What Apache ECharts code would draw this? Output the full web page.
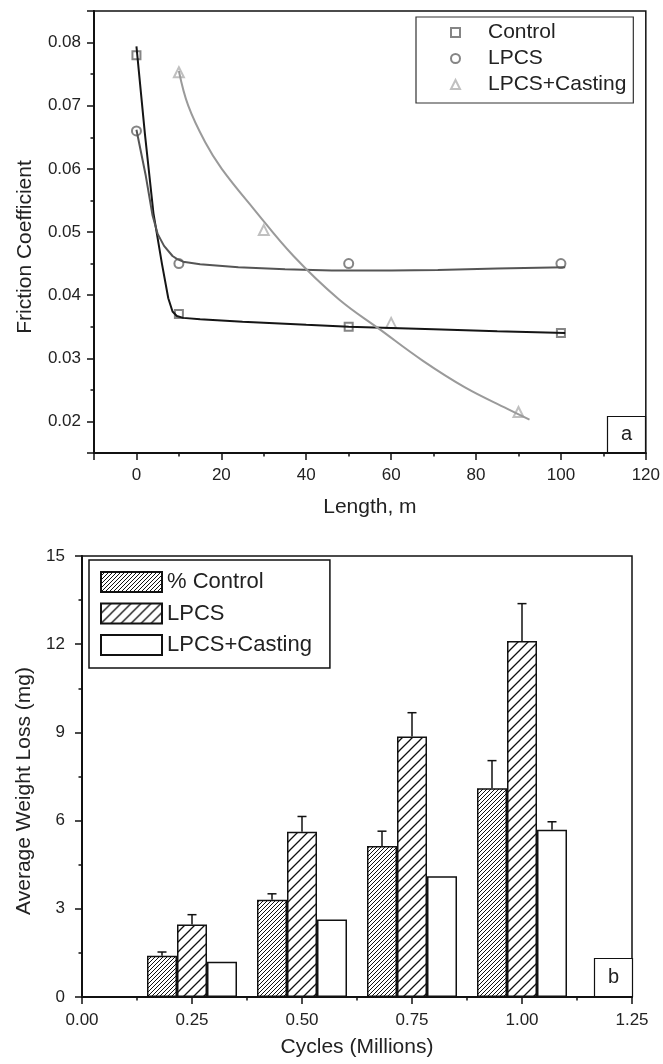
<!DOCTYPE html>
<html>
<head>
<meta charset="utf-8">
<title>Friction coefficient and weight loss</title>
<script src="https://cdn.jsdelivr.net/npm/echarts@6/dist/echarts.min.js"></script>
<style>
html,body{margin:0;padding:0;background:#fff;}
#chart{width:663px;height:1064px;}
</style>
</head>
<body>
<div id="chart"></div>
<script>
// (a) friction coefficient vs length
var controlX = [0, 10, 50, 100];
var controlY = [0.078, 0.037, 0.035, 0.034];
var lpcsX = [0, 10, 50, 100];
var lpcsY = [0.066, 0.045, 0.045, 0.045];
var castX = [10, 30, 60, 90];
var castY = [0.0753, 0.0503, 0.0356, 0.0215];

// fitted curves, points
var controlFitX = [0, 2, 4, 6, 7.5, 8.5, 9.5, 11, 15, 25, 40, 50, 70, 85, 101];
var controlFitY = [0.0794, 0.0655, 0.0530, 0.0450, 0.0395, 0.0374, 0.0367, 0.0364, 0.0362, 0.0358, 0.0353, 0.0350, 0.0346, 0.0343, 0.0340];
var lpcsFitX = [0, 2.2, 3.8, 5, 6.5, 8.5, 9.6, 11, 15, 24, 35, 46, 60, 71, 85, 101];
var lpcsFitY = [0.0662, 0.0589, 0.0526, 0.0497, 0.0478, 0.0462, 0.0457, 0.0453, 0.0449, 0.0444, 0.0441, 0.0439, 0.0439, 0.0440, 0.0442, 0.0444];
var castFitX = [10, 12.2, 16.2, 20.1, 27.7, 37, 47.6, 57.5, 67.5, 77.4, 87.4, 92.6];
var castFitY = [0.0755, 0.0700, 0.0642, 0.0600, 0.0536, 0.0462, 0.0394, 0.0345, 0.0296, 0.0254, 0.0220, 0.0203];

// (b) average weight loss vs cycles
var cycles = [0.25, 0.5, 0.75, 1.0];
var controlLoss = [1.40, 3.31, 5.14, 7.10];
var controlErr = [0.13, 0.20, 0.50, 0.94];
var lpcsLoss = [2.47, 5.62, 8.86, 12.11];
var lpcsErr = [0.33, 0.52, 0.81, 1.27];
var castLoss = [1.20, 2.64, 4.11, 5.69];
var castErr = [0, 0, 0, 0.27];

var font = "'Liberation Sans', Arial, sans-serif";
var ink = '#111';

function pairs(xs, ys){
	return xs.map(function(x, i){ return [x, ys[i]]; });
}
function triples(xs, ys, es){
	return xs.map(function(x, i){ return [x, ys[i], es[i]]; });
}
//斜线填充
function hatch(step, lw){
	var c = document.createElement('canvas');
	c.width = step; c.height = step;
	var ctx = c.getContext('2d');
	ctx.fillStyle = '#fff';
	ctx.fillRect(0, 0, step, step);
	ctx.strokeStyle = ink;
	ctx.lineWidth = lw;
	ctx.beginPath();
	ctx.moveTo(-1, step + 1); ctx.lineTo(step + 1, -1);
	ctx.moveTo(-1, 1); ctx.lineTo(1, -1);
	ctx.moveTo(step - 1, step + 1); ctx.lineTo(step + 1, step - 1);
	ctx.stroke();
	return {image: c, repeat: 'repeat'};
}
//误差线
function errItem(offset){
	return function(params, api){
		var err = api.value(2);
		if(!err) return;
		var base = api.coord([api.value(0), api.value(1)]);
		var top = api.coord([api.value(0), api.value(1) + err]);
		var x = base[0] + offset;
		return {
			type: 'group',
			children: [
				{type: 'line', shape: {x1: x, y1: base[1], x2: x, y2: top[1]}, style: {stroke: ink, lineWidth: 1.5}},
				{type: 'line', shape: {x1: x - 4.5, y1: top[1], x2: x + 4.5, y2: top[1]}, style: {stroke: ink, lineWidth: 1.5}}
			]
		};
	};
}

var axisLine = {show: true, onZero: false, lineStyle: {color: ink, width: 2}};
var axisTick = {show: true, inside: false, length: 7, lineStyle: {color: ink, width: 1.5}};
var minorTick = {show: true, splitNumber: 2, length: 3.5, lineStyle: {color: ink, width: 1.5}};
var labelColor = '#222';
var labelSize = 17;
var nameStyle = {color: '#222', fontSize: 21, fontFamily: font};

var myChart = echarts.init(document.getElementById('chart'));
var option = {
	backgroundColor: '#fff',
	animation: false,
	textStyle: {fontFamily: font},
	title: [
		{text: 'a', left: 607, top: 416, padding: [8, 14, 8, 14], borderColor: ink, borderWidth: 1.2, backgroundColor: '#fff',
			textStyle: {fontSize: 20, fontWeight: 'normal', color: '#222', lineHeight: 21, fontFamily: font}},
		{text: 'b', left: 594, top: 958, padding: [9, 14, 9, 14], borderColor: ink, borderWidth: 1.2, backgroundColor: '#fff',
			textStyle: {fontSize: 20, fontWeight: 'normal', color: '#222', lineHeight: 21, fontFamily: font}}
	],
	legend: [
		{
			data: ['Control', 'LPCS', 'LPCS+Casting'],
			orient: 'vertical', left: 416, top: 17,
			itemWidth: 9, itemHeight: 9, itemGap: 5,
			padding: [5, 7, 8, 34],
			borderColor: '#333', borderWidth: 1.2, backgroundColor: '#fff',
			textStyle: {fontSize: 21, lineHeight: 20, color: '#222', fontFamily: font, padding: [0, 0, 0, 23]},
			selectedMode: false
		},
		{
			data: ['% Control', 'LPCS wear', 'LPCS+Casting wear'],
			formatter: function(n){ return n.replace(' wear', ''); },
			orient: 'vertical', left: 89, top: 560, icon: 'rect',
			itemWidth: 61, itemHeight: 20, itemGap: 9.5,
			padding: [11, 18, 12, 11],
			borderColor: ink, borderWidth: 1.5, backgroundColor: '#fff',
			textStyle: {fontSize: 22, lineHeight: 20, color: '#222', fontFamily: font},
			selectedMode: false
		}
	],
	grid: [
		{left: 94, right: 17, top: 11, height: 442, show: true, borderColor: ink, borderWidth: 1.5},
		{left: 82, right: 31, top: 556, height: 441, show: true, borderColor: ink, borderWidth: 1.5}
	],
	xAxis: [
		{
			gridIndex: 0, type: 'value', min: -10, max: 120, splitNumber: 6,
			axisLine: axisLine, axisTick: axisTick, minorTick: minorTick, splitLine: {show: false},
			axisLabel: {showMinLabel: false, margin: 14, color: labelColor, fontSize: labelSize, fontFamily: font},
			name: 'Length, m', nameLocation: 'middle', nameGap: 44, nameTextStyle: nameStyle
		},
		{
			gridIndex: 1, type: 'value', min: 0, max: 1.25, interval: 0.25,
			axisLine: axisLine, axisTick: axisTick, minorTick: minorTick, splitLine: {show: false},
			axisLabel: {margin: 15, color: labelColor, fontSize: labelSize, fontFamily: font,
				formatter: function(v){ return v.toFixed(2); }},
			name: 'Cycles (Millions)', nameLocation: 'middle', nameGap: 40, nameTextStyle: nameStyle
		}
	],
	yAxis: [
		{
			gridIndex: 0, type: 'value', min: 0.015, max: 0.085, splitNumber: 7,
			axisLine: axisLine, axisTick: axisTick, minorTick: minorTick, splitLine: {show: false},
			axisLabel: {showMinLabel: false, showMaxLabel: false, margin: 13, color: labelColor, fontSize: labelSize, fontFamily: font},
			name: 'Friction Coefficient', nameLocation: 'middle', nameRotate: 90, nameGap: 58,
			nameTextStyle: {color: '#222', fontSize: 21, fontFamily: font, padding: [0, 30, 0, 0]}
		},
		{
			gridIndex: 1, type: 'value', min: 0, max: 15, interval: 3,
			axisLine: axisLine, axisTick: axisTick, minorTick: minorTick, splitLine: {show: false},
			axisLabel: {margin: 17, color: labelColor, fontSize: labelSize, fontFamily: font},
			name: 'Average Weight Loss (mg)', nameLocation: 'middle', nameRotate: 90, nameGap: 47,
			nameTextStyle: {color: '#222', fontSize: 21, fontFamily: font, padding: [0, 29, 0, 0]}
		}
	],
	series: [
		// fit lines
		{name: 'Control fit', type: 'line', xAxisIndex: 0, yAxisIndex: 0, data: pairs(controlFitX, controlFitY),
			smooth: false, showSymbol: false, lineStyle: {color: '#151515', width: 2}, itemStyle: {color: '#151515'}, z: 3},
		{name: 'LPCS fit', type: 'line', xAxisIndex: 0, yAxisIndex: 0, data: pairs(lpcsFitX, lpcsFitY),
			smooth: false, showSymbol: false, lineStyle: {color: '#555', width: 2}, itemStyle: {color: '#555'}, z: 3},
		{name: 'LPCS+Casting fit', type: 'line', xAxisIndex: 0, yAxisIndex: 0, data: pairs(castFitX, castFitY),
			smooth: 0.4, showSymbol: false, lineStyle: {color: '#9a9a9a', width: 2}, itemStyle: {color: '#9a9a9a'}, z: 3},
		// measured points
		{name: 'Control', type: 'scatter', xAxisIndex: 0, yAxisIndex: 0, data: pairs(controlX, controlY),
			symbol: 'emptyRect', symbolSize: 8, itemStyle: {color: '#666', borderWidth: 1.2}, z: 2},
		{name: 'LPCS', type: 'scatter', xAxisIndex: 0, yAxisIndex: 0, data: pairs(lpcsX, lpcsY),
			symbol: 'emptyCircle', symbolSize: 9, itemStyle: {color: '#666', borderWidth: 1.2}, z: 2},
		{name: 'LPCS+Casting', type: 'scatter', xAxisIndex: 0, yAxisIndex: 0, data: pairs(castX, castY),
			symbol: 'emptyTriangle', symbolSize: 10, itemStyle: {color: '#b0b0b0', borderWidth: 1.2}, z: 2},
		// bars
		{name: '% Control', type: 'bar', xAxisIndex: 1, yAxisIndex: 1, data: pairs(cycles, controlLoss),
			barWidth: 30, barGap: '0%', itemStyle: {color: hatch(4, 1), borderColor: ink, borderWidth: 1.5}},
		{name: 'LPCS wear', type: 'bar', xAxisIndex: 1, yAxisIndex: 1, data: pairs(cycles, lpcsLoss),
			barWidth: 30, barGap: '0%', itemStyle: {color: hatch(10, 1.3), borderColor: ink, borderWidth: 1.5}},
		{name: 'LPCS+Casting wear', type: 'bar', xAxisIndex: 1, yAxisIndex: 1, data: pairs(cycles, castLoss),
			barWidth: 30, barGap: '0%', itemStyle: {color: '#fff', borderColor: ink, borderWidth: 1.5}},
		// error bars
		{type: 'custom', xAxisIndex: 1, yAxisIndex: 1, data: triples(cycles, controlLoss, controlErr),
			encode: {x: 0, y: 1}, renderItem: errItem(-30), z: 4},
		{type: 'custom', xAxisIndex: 1, yAxisIndex: 1, data: triples(cycles, lpcsLoss, lpcsErr),
			encode: {x: 0, y: 1}, renderItem: errItem(0), z: 4},
		{type: 'custom', xAxisIndex: 1, yAxisIndex: 1, data: triples(cycles, castLoss, castErr),
			encode: {x: 0, y: 1}, renderItem: errItem(30), z: 4}
	]
};
myChart.setOption(option);
</script>
</body>
</html>
